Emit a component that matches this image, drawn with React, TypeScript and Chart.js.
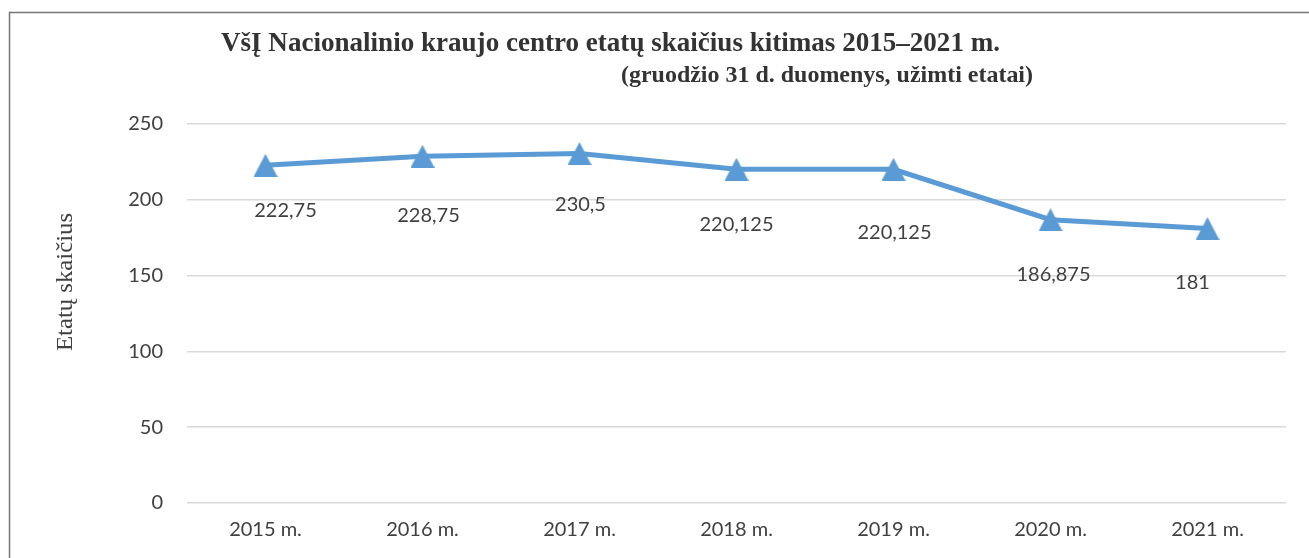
import React, { useEffect, useRef } from "react";
import { Chart, registerables } from "chart.js";

Chart.register(...registerables);

const categories = ["2015 m.", "2016 m.", "2017 m.", "2018 m.", "2019 m.", "2020 m.", "2021 m."];
const values = [222.75, 228.75, 230.5, 220.125, 220.125, 186.875, 181];
const valueLabels = ["222,75", "228,75", "230,5", "220,125", "220,125", "186,875", "181"];
const labelDx = [20, 6, 1, 0, 1, 3, -15];
const labelDy = [45, 59, 51, 55, 63, 55, 54];
const yTicks = [0, 50, 100, 150, 200, 250];

const titleText = "VšĮ Nacionalinio kraujo centro etatų skaičius kitimas 2015–2021 m.";
const subtitleText = "(gruodžio 31 d. duomenys, užimti etatai)";
const yTitle = "Etatų skaičius";

const BLUE = "#5B9BD5";
const TEXT = "#404040";
const FONT = "Lato";

function makeTriangle(): HTMLCanvasElement {
  const c = document.createElement("canvas");
  c.width = 24;
  c.height = 23;
  const ctx = c.getContext("2d")!;
  ctx.fillStyle = BLUE;
  ctx.beginPath();
  ctx.moveTo(12, 0);
  ctx.lineTo(24, 23);
  ctx.lineTo(0, 23);
  ctx.closePath();
  ctx.fill();
  return c;
}

const decorPlugin = {
  id: "decor",
  beforeDraw(chart: any) {
    const ctx = chart.ctx as CanvasRenderingContext2D;
    ctx.save();
    ctx.fillStyle = "#ffffff";
    ctx.fillRect(0, 0, chart.width, chart.height);
    ctx.strokeStyle = "#767676";
    ctx.lineWidth = 1.5;
    ctx.strokeRect(9.5, 12.5, chart.width + 50, chart.height + 50);
    ctx.restore();
  },
  afterDraw(chart: any) {
    const ctx = chart.ctx as CanvasRenderingContext2D;
    ctx.save();
    // titles
    ctx.fillStyle = "#333333";
    ctx.textBaseline = "alphabetic";
    ctx.textAlign = "left";
    ctx.font = "bold 28px 'Liberation Serif'";
    let w = ctx.measureText(titleText).width;
    ctx.save();
    ctx.translate(221, 51);
    ctx.scale(779 / w, 1);
    ctx.fillText(titleText, 0, 0);
    ctx.restore();
    ctx.font = "bold 23px 'Liberation Serif'";
    w = ctx.measureText(subtitleText).width;
    ctx.save();
    ctx.translate(621, 82);
    ctx.scale(412 / w, 1);
    ctx.fillText(subtitleText, 0, 0);
    ctx.restore();
    // y title
    ctx.save();
    ctx.translate(66, 282);
    ctx.rotate(-Math.PI / 2);
    ctx.textAlign = "center";
    ctx.textBaseline = "middle";
    ctx.fillStyle = TEXT;
    ctx.font = "24px 'Liberation Serif'";
    w = ctx.measureText(yTitle).width;
    ctx.scale(138 / w, 1);
    ctx.fillText(yTitle, 0, 0);
    ctx.restore();
    // data labels
    const meta = chart.getDatasetMeta(0);
    ctx.font = `20px ${FONT}`;
    ctx.fillStyle = TEXT;
    ctx.textAlign = "center";
    ctx.textBaseline = "middle";
    meta.data.forEach((pt: any, i: number) => {
      ctx.fillText(valueLabels[i], pt.x + labelDx[i], pt.y + labelDy[i]);
    });
    ctx.restore();
  },
};

export default function App() {
  const ref = useRef<HTMLCanvasElement | null>(null);
  useEffect(() => {
    document.body.style.margin = "0";
    const tri = makeTriangle();
    const chart = new Chart(ref.current!, {
      type: "line",
      data: {
        labels: categories,
        datasets: [
          {
            data: values,
            borderColor: BLUE,
            backgroundColor: BLUE,
            borderWidth: 5,
            pointStyle: tri as any,
            pointRadius: 12,
            pointHoverRadius: 12,
            tension: 0,
          },
        ],
      },
      options: {
        animation: false,
        responsive: false,
        events: [],
        layout: { padding: { left: 0, right: 23, top: 124, bottom: 0 } },
        plugins: { legend: { display: false }, title: { display: false }, tooltip: { enabled: false } },
        scales: {
          x: {
            type: "category",
            offset: true,
            grid: { display: false, drawTicks: false },
            border: { display: false },
            ticks: { color: TEXT, font: { family: FONT, size: 20 }, padding: 15, maxRotation: 0 },
            afterFit: (s: any) => {
              s.height = 55;
            },
          },
          y: {
            min: 0,
            max: 250,
            afterBuildTicks: (s: any) => {
              s.ticks = yTicks.map((v) => ({ value: v }));
            },
            grid: { color: "#D9D9D9", lineWidth: 1.5, drawTicks: false },
            border: { display: false },
            ticks: { color: TEXT, font: { family: FONT, size: 20 }, padding: 24 },
            afterFit: (s: any) => {
              s.width = 187;
            },
          },
        },
      },
      plugins: [decorPlugin],
    });
    return () => chart.destroy();
  }, []);
  return <canvas ref={ref} width={1309} height={558} style={{ display: "block" }} />;
}
